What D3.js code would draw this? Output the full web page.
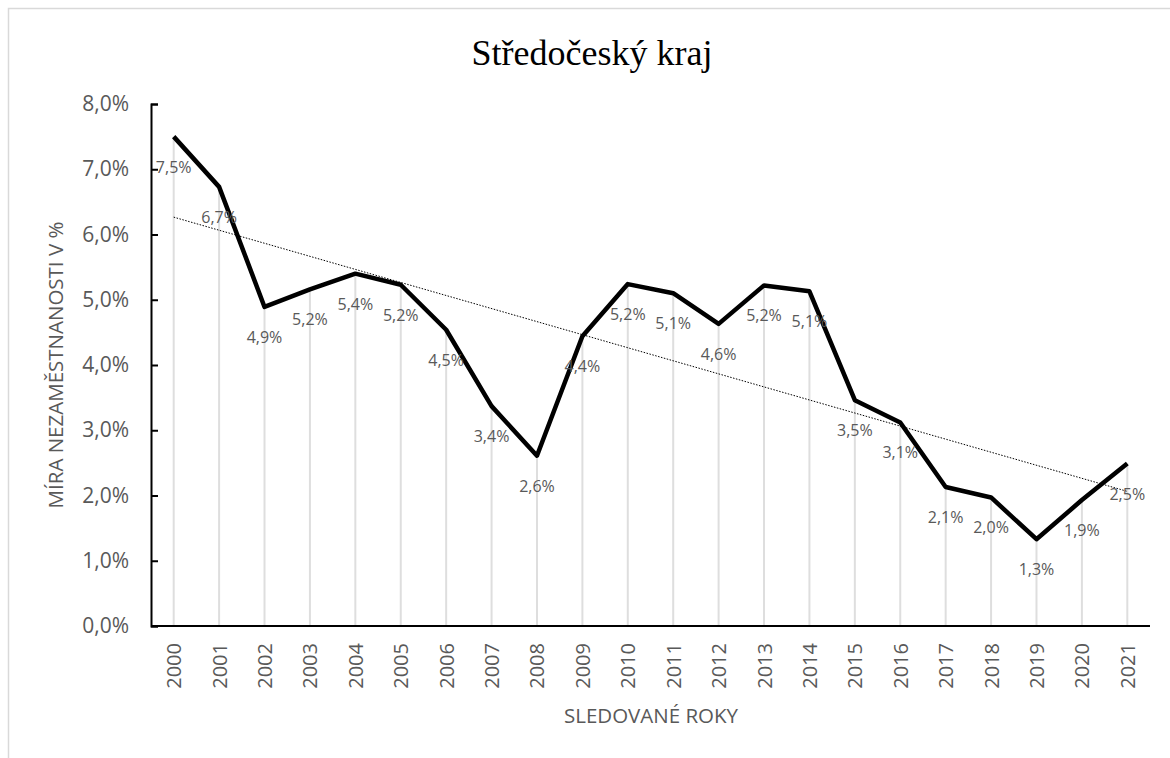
<!DOCTYPE html>
<html>
<head>
<meta charset="utf-8">
<script src="https://cdn.jsdelivr.net/npm/d3@7"></script>
<style>
  body { margin: 0; background: #fff; }
  text { font-family: "Open Sans", sans-serif; }
</style>
</head>
<body>
<script>
// data
var years = ['2000','2001','2002','2003','2004','2005','2006','2007','2008','2009','2010',
             '2011','2012','2013','2014','2015','2016','2017','2018','2019','2020','2021'];
var rates = [7.50, 6.73, 4.89, 5.16, 5.40, 5.23, 4.54, 3.37, 2.61, 4.44, 5.24,
             5.10, 4.63, 5.22, 5.13, 3.46, 3.12, 2.13, 1.97, 1.33, 1.93, 2.49];
var yTicks = [0, 1, 2, 3, 4, 5, 6, 7, 8];

var data = years.map(function(y, i) { return {year: y, rate: rates[i]}; });

// dimensions
var W = 1170, H = 758,
    margin = {top: 104, left: 151},
    width = 1150 - margin.left,
    height = 626 - margin.top;

var fmt = function(v) { return d3.format('.1f')(v).replace('.', ',') + '%'; };

var svg = d3.select('body').append('svg')
    .attr('width', W)
    .attr('height', H);

// chart border
svg.append('rect')
    .attr('x', 8.5).attr('y', 8.5)
    .attr('width', W + 20).attr('height', H + 20)
    .attr('fill', '#fff')
    .attr('stroke', '#d9d9d9')
    .attr('stroke-width', 1.5);

var g = svg.append('g')
    .attr('transform', 'translate(' + margin.left + ',' + margin.top + ')');

// scales
var x = d3.scalePoint().domain(years).range([0, width]).padding(0.5);
var y = d3.scaleLinear().domain([0, 8]).range([height, 0]);

// drop lines
g.selectAll('.drop')
    .data(data)
  .enter().append('line')
    .attr('class', 'drop')
    .attr('x1', function(d) { return x(d.year); })
    .attr('x2', function(d) { return x(d.year); })
    .attr('y1', function(d) { return y(d.rate); })
    .attr('y2', height)
    .attr('stroke', '#dedede')
    .attr('stroke-width', 2);

// linear trend (least squares)
var n = rates.length,
    mx = d3.mean(rates, function(d, i) { return i; }),
    my = d3.mean(rates),
    sxy = d3.sum(rates, function(d, i) { return (i - mx) * (d - my); }),
    sxx = d3.sum(rates, function(d, i) { return (i - mx) * (i - mx); }),
    slope = sxy / sxx,
    icpt = my - slope * mx;

var trend = [{year: years[0], rate: icpt}, {year: years[n - 1], rate: icpt + slope * (n - 1)}];

var line = d3.line()
    .x(function(d) { return x(d.year); })
    .y(function(d) { return y(d.rate); });

g.append('path')
    .datum(trend)
    .attr('d', line)
    .attr('fill', 'none')
    .attr('stroke', '#000')
    .attr('stroke-width', 1)
    .attr('stroke-dasharray', '1.5,1.5');

// main line
g.append('path')
    .datum(data)
    .attr('d', line)
    .attr('fill', 'none')
    .attr('stroke', '#000')
    .attr('stroke-width', 4.5)
    .attr('stroke-linejoin', 'round');

// data labels
g.selectAll('.lbl')
    .data(data)
  .enter().append('text')
    .attr('class', 'lbl')
    .attr('x', function(d) { return x(d.year); })
    .attr('y', function(d) { return y(d.rate) + 36; })
    .attr('text-anchor', 'middle')
    .attr('font-size', 16)
    .attr('fill', '#595959')
    .text(function(d) { return fmt(d.rate); });

// y axis
var yAxis = g.append('g')
    .call(d3.axisLeft(y).tickValues(yTicks).tickSize(-7).tickPadding(22).tickFormat(fmt));
yAxis.select('.domain').attr('stroke', '#000').attr('stroke-width', 2);
yAxis.selectAll('.tick line').attr('stroke', '#000').attr('stroke-width', 2);
yAxis.selectAll('.tick text').attr('font-size', 21).attr('fill', '#595959')
    .attr('font-family', '"Open Sans", sans-serif');

// x axis
var xAxis = g.append('g')
    .attr('transform', 'translate(0,' + height + ')')
    .call(d3.axisBottom(x).tickSize(0).tickPadding(0));
xAxis.select('.domain').attr('stroke', '#000').attr('stroke-width', 2)
    .attr('d', 'M0,0H' + width);
xAxis.selectAll('.tick text')
    .attr('font-size', 20)
    .attr('fill', '#595959')
    .attr('font-family', '"Open Sans", sans-serif')
    .attr('text-anchor', 'end')
    .attr('transform', 'rotate(-90)')
    .attr('x', -17)
    .attr('y', 0)
    .attr('dy', '0.35em');

// titles
svg.append('text')
    .attr('x', 592).attr('y', 65)
    .attr('text-anchor', 'middle')
    .attr('font-size', 36)
    .attr('fill', '#000')
    .style('font-family', '"Liberation Serif", "Times New Roman", serif')
    .text('Středočeský kraj');

svg.append('text')
    .attr('transform', 'translate(63,365)rotate(-90)')
    .attr('text-anchor', 'middle')
    .attr('font-size', 20.5)
    .attr('fill', '#595959')
    .text('MÍRA NEZAMĚSTNANOSTI V %');

svg.append('text')
    .attr('x', 651).attr('y', 723)
    .attr('text-anchor', 'middle')
    .attr('font-size', 20.5)
    .attr('fill', '#595959')
    .text('SLEDOVANÉ ROKY');
</script>
</body>
</html>
